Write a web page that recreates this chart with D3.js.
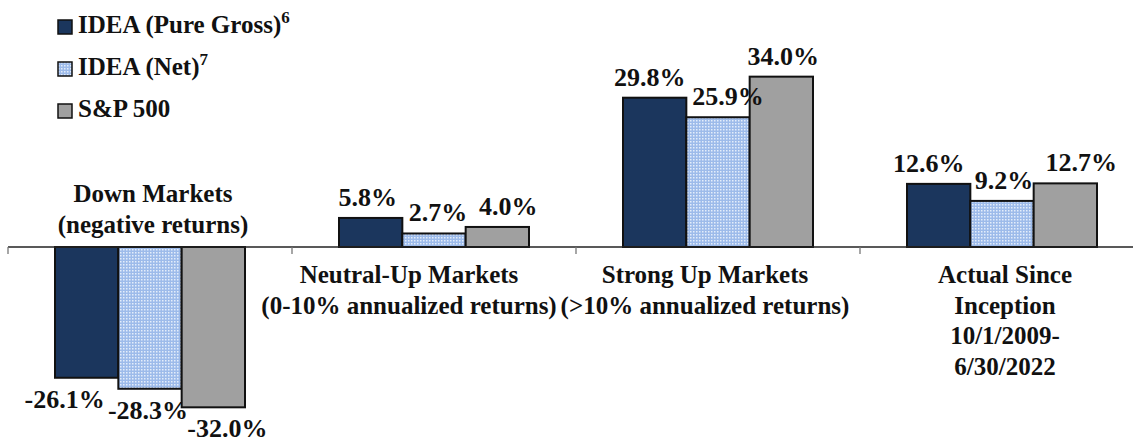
<!DOCTYPE html>
<html lang="en">
<head>
<meta charset="UTF-8">
<title>IDEA vs S&amp;P 500</title>
<script src="https://d3js.org/d3.v7.min.js"></script>
<style>
  body { margin: 0; background: #fff; }
  text { font-family: "Liberation Serif", "Times New Roman", serif; font-weight: bold; fill: #111; }
</style>
</head>
<body>
<div id="chart"></div>
<script>
// data
const categories = ["Down Markets", "Neutral-Up Markets", "Strong Up Markets", "Actual Since Inception"];
const categoryLines = [
  ["Down Markets", "(negative returns)"],
  ["Neutral-Up Markets", "(0-10% annualized returns)"],
  ["Strong Up Markets", "(>10% annualized returns)"],
  ["Actual Since", "Inception", "10/1/2009-", "6/30/2022"]
];
const seriesNames = ["IDEA (Pure Gross)", "IDEA (Net)", "S&P 500"];
const seriesNotes = ["6", "7", ""];
const grossValues = [-26.1, 5.8, 29.8, 12.6];
const netValues = [-28.3, 2.7, 25.9, 9.2];
const spValues = [-32.0, 4.0, 34.0, 12.7];

// layout
const w = 1133, h = 442;
const zeroY = 247, pxPerPct = 5.01;
const labelDx = [[-22, -2, 14], [-3, 4, 11], [-5, 10, 2], [-10, 2, 16]];
const catDx = [3, -25, -13, 3];
const colors = ["#1b365d", "url(#netPattern)", "#a0a0a0"];

const svg = d3.select("#chart").append("svg")
  .attr("width", w).attr("height", h);

const defs = svg.append("defs");
const pat = defs.append("pattern")
  .attr("id", "netPattern")
  .attr("patternUnits", "userSpaceOnUse")
  .attr("width", 3).attr("height", 3);
pat.append("rect").attr("width", 3).attr("height", 3).attr("fill", "#9dbbea");
pat.append("rect").attr("width", 1.5).attr("height", 1.5).attr("fill", "#e4edfa");

const x = d3.scaleBand().domain(categories).range([8, 1144]);
const xSub = d3.scaleBand().domain(seriesNames).range([47, 237]);
const y = d3.scaleLinear().domain([-35, 35])
  .range([zeroY + 35 * pxPerPct, zeroY - 35 * pxPerPct]);

const values = [grossValues, netValues, spValues];
const cells = [];
categories.forEach((c, ci) => {
  seriesNames.forEach((s, si) => {
    cells.push({ c, ci, s, si, v: values[si][ci] });
  });
});

// bars
svg.append("g").selectAll("rect")
  .data(cells)
  .join("rect")
  .attr("x", d => x(d.c) + xSub(d.s))
  .attr("y", d => y(Math.max(0, d.v)))
  .attr("width", xSub.bandwidth())
  .attr("height", d => Math.abs(y(d.v) - y(0)))
  .attr("fill", d => colors[d.si])
  .attr("stroke", "#111")
  .attr("stroke-width", 2);

// axis line + ticks at category boundaries
const axisG = svg.append("g");
axisG.append("line")
  .attr("x1", 8).attr("x2", w)
  .attr("y1", y(0)).attr("y2", y(0))
  .attr("stroke", "#222").attr("stroke-width", 1.3);
axisG.selectAll("line.tick")
  .data(categories)
  .join("line")
  .attr("class", "tick")
  .attr("x1", d => x(d)).attr("x2", d => x(d))
  .attr("y1", y(0)).attr("y2", y(0) + 7)
  .attr("stroke", "#777").attr("stroke-width", 1.3);

// value labels
svg.append("g").selectAll("text")
  .data(cells)
  .join("text")
  .attr("x", d => x(d.c) + xSub(d.s) + xSub.bandwidth() / 2 + labelDx[d.ci][d.si])
  .attr("y", d => d.v >= 0 ? y(d.v) - 12 : y(d.v) + 30)
  .attr("text-anchor", "middle")
  .style("font-size", "26px")
  .text(d => d.v.toFixed(1) + "%");

// category labels
categories.forEach((c, ci) => {
  const lines = categoryLines[ci];
  const cx = x(c) + x.bandwidth() / 2 + catDx[ci];
  const neg = grossValues[ci] < 0;
  const t = svg.append("text")
    .attr("text-anchor", "middle")
    .style("font-size", "25px");
  const startY = neg ? y(0) - 15 - 30 * (lines.length - 1) : y(0) + 36;
  lines.forEach((ln, li) => {
    t.append("tspan").attr("x", cx).attr("y", startY + li * 30.5).text(ln);
  });
});

// legend
const leg = svg.append("g").attr("transform", "translate(58,20)");
seriesNames.forEach((s, i) => {
  const g = leg.append("g").attr("transform", `translate(0,${i * 42})`);
  g.append("rect").attr("width", 14).attr("height", 14)
    .attr("fill", colors[i]).attr("stroke", "#111").attr("stroke-width", 1.5);
  const t = g.append("text").attr("x", 20).attr("y", 13).style("font-size", "25px").text(s);
  if (seriesNotes[i]) {
    t.append("tspan").attr("dy", -10).style("font-size", "17px").text(seriesNotes[i]);
  }
});
</script>
</body>
</html>
